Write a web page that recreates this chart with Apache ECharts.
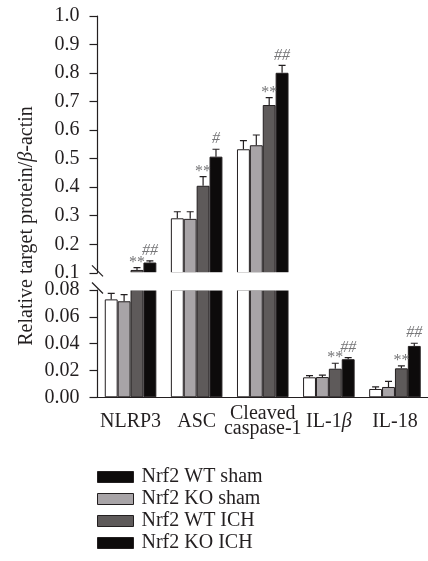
<!DOCTYPE html>
<html>
<head>
<meta charset="utf-8">
<script src="https://cdn.jsdelivr.net/npm/echarts@6/dist/echarts.min.js"></script>
<style>
  html, body { margin: 0; padding: 0; background: #fff; }
  #chart { width: 428px; height: 561px; }
</style>
</head>
<body>
<div id="chart"></div>
<script>
// Inflammasome markers relative to β-actin, four genotype/treatment groups
const categories = ['NLRP3', 'ASC', 'Cleaved\ncaspase-1', 'IL-1β', 'IL-18'];
const seriesNames = ['Nrf2 WT sham', 'Nrf2 KO sham', 'Nrf2 WT ICH', 'Nrf2 KO ICH'];

const wtSham    = [0.073, 0.291, 0.533, 0.0149, 0.0062];
const wtShamErr = [0.0045, 0.023, 0.030, 0.0012, 0.0015];
const koSham    = [0.0716, 0.289, 0.547, 0.0151, 0.0077];
const koShamErr = [0.005, 0.025, 0.036, 0.0015, 0.0042];
const wtIch     = [0.110, 0.405, 0.688, 0.0213, 0.0216];
const wtIchErr  = [0.008, 0.032, 0.026, 0.0041, 0.0018];
const koIch     = [0.136, 0.507, 0.801, 0.0284, 0.0383];
const koIchErr  = [0.006, 0.026, 0.026, 0.0012, 0.0020];

const wtIchSig = ['**', '**', '**', '**', '**'];
const koIchSig = ['##', '#', '##', '##', '##'];

// Tick labels of the two y-axis segments (upper 0.1–1.0, lower 0–0.08)
const upperTicks = ['0.1', '0.2', '0.3', '0.4', '0.5', '0.6', '0.7', '0.8', '0.9', '1.0'];
const lowerTicks = ['0.00', '0.02', '0.04', '0.06', '0.08'];

const groups = [
  { mean: wtSham, err: wtShamErr, sig: null },
  { mean: koSham, err: koShamErr, sig: null },
  { mean: wtIch,  err: wtIchErr,  sig: wtIchSig },
  { mean: koIch,  err: koIchErr,  sig: koIchSig }
];

const FONT = '"Liberation Serif", "Times New Roman", serif';
const INK = '#231f20';
const barColors = ['#ffffff', '#a8a4a7', '#5e5a5a', '#0d0b0b'];
const legendColors = ['#0d0b0b', '#a8a4a7', '#5e5a5a', '#0d0b0b'];

const GRID_LEFT = 97.5;
const GRID_WIDTH = 338.5;
const UPPER_TOP = 16, UPPER_H = 256.8;
const LOWER_TOP = 290, LOWER_H = 107.3;
const CAT_GAP = 0.22;

function errorBars(params, api, gridIdx) {
  const cat = api.value(0), mean = api.value(1), err = api.value(2), g = api.value(3);
  const bandW = api.size([1, 0])[0];
  const barW = bandW * (1 - CAT_GAP) / 4;
  const base = api.coord([cat, mean]);
  const top = api.coord([cat, mean + err]);
  const x = base[0] + (g - 1.5) * barW;
  const line = { stroke: INK, lineWidth: 1.2 };
  const children = [
    { type: 'line', shape: { x1: x, y1: base[1], x2: x, y2: top[1] }, style: line },
    { type: 'line', shape: { x1: x - 3.5, y1: top[1], x2: x + 3.5, y2: top[1] }, style: line }
  ];
  const sig = groups[g].sig;
  if (sig && sig[cat]) {
    const isStar = sig[cat].indexOf('*') >= 0;
    children.push({
      type: 'text',
      style: {
        text: sig[cat],
        x: x,
        y: top[1] + (isStar ? 3 : -2),
        align: 'center',
        verticalAlign: 'bottom',
        fontFamily: FONT,
        fontSize: 16,
        fontStyle: isStar ? 'normal' : 'italic',
        fill: '#767678'
      }
    });
  }
  const cs = params.coordSys;
  // each panel only shows what falls inside its own value range
  const clip = gridIdx === 1
    ? { x: cs.x, y: cs.y, width: cs.width, height: cs.height }
    : { x: cs.x, y: 0, width: cs.width, height: cs.y + cs.height };
  return { type: 'group', children: children, clipPath: { type: 'rect', shape: clip } };
}

function barSeries(gridIdx) {
  return groups.map((grp, g) => ({
    name: seriesNames[g],
    type: 'bar',
    xAxisIndex: gridIdx,
    yAxisIndex: gridIdx,
    data: grp.mean,
    barGap: '0%',
    barCategoryGap: (CAT_GAP * 100) + '%',
    clip: true,
    itemStyle: { color: barColors[g], borderColor: INK, borderWidth: 1 },
    emphasis: { disabled: true }
  }));
}

function errorSeries(gridIdx) {
  const data = [];
  groups.forEach((grp, g) => {
    grp.mean.forEach((m, c) => data.push([c, m, grp.err[c], g]));
  });
  return {
    type: 'custom',
    xAxisIndex: gridIdx,
    yAxisIndex: gridIdx,
    renderItem: (params, api) => errorBars(params, api, gridIdx),
    data: data,
    z: 5,
    silent: true
  };
}

const axisText = { fontFamily: FONT, fontSize: 20, color: INK };

const chart = echarts.init(document.getElementById('chart'), null, { renderer: 'canvas' });

// diagonal break marks across the y axis
const brk = (y) => ({
  type: 'line',
  shape: { x1: GRID_LEFT - 5.5, y1: y - 5.5, x2: GRID_LEFT + 5.5, y2: y + 5.5 },
  style: { stroke: INK, lineWidth: 1.2 },
  z: 101
});

chart.setOption({
  animation: false,
  backgroundColor: '#ffffff',
  grid: [
    { left: GRID_LEFT, width: GRID_WIDTH, top: UPPER_TOP, height: UPPER_H, containLabel: false },
    { left: GRID_LEFT, width: GRID_WIDTH, top: LOWER_TOP, height: LOWER_H, containLabel: false }
  ],
  xAxis: [
    {
      type: 'category', gridIndex: 0, data: categories,
      axisLine: { show: false }, axisTick: { show: false }, axisLabel: { show: false }
    },
    {
      type: 'category', gridIndex: 1, data: categories,
      axisLine: { show: true, lineStyle: { color: INK, width: 1.2 } },
      axisTick: { show: false },
      axisLabel: {
        interval: 0,
        margin: 24,
        verticalAlign: 'middle',
        lineHeight: 15,
        ...axisText,
        formatter: (v) => v.replace('β', '{i|β}'),
        rich: {
          i: { fontFamily: FONT, fontSize: 20, fontStyle: 'italic', color: INK }
        }
      }
    }
  ],
  yAxis: [
    {
      type: 'value', gridIndex: 0, min: 0.1, max: 1.0, interval: 0.1,
      axisLine: { show: true, lineStyle: { color: INK, width: 1.2 } },
      axisTick: { show: true, length: 8, lineStyle: { color: INK, width: 1.2 } },
      splitLine: { show: false },
      axisLabel: {
        margin: 18, ...axisText,
        formatter: (v) => upperTicks[Math.round(v * 10) - 1]
      }
    },
    {
      type: 'value', gridIndex: 1, min: 0, max: 0.08, interval: 0.02,
      axisLine: { show: true, lineStyle: { color: INK, width: 1.2 } },
      axisTick: { show: true, length: 8, lineStyle: { color: INK, width: 1.2 } },
      splitLine: { show: false },
      axisLabel: {
        margin: 18, ...axisText,
        formatter: (v) => lowerTicks[Math.round(v * 50)]
      }
    }
  ],
  legend: {
    orient: 'vertical',
    left: 92,
    top: 461,
    height: 96,
    itemWidth: 36,
    itemHeight: 11,
    itemGap: 0,
    selectedMode: false,
    icon: 'rect',
    textStyle: { fontFamily: FONT, fontSize: 20, lineHeight: 22, color: INK, padding: [0, 0, 0, 3] },
    data: seriesNames.map((n, i) => ({
      name: n,
      itemStyle: { color: legendColors[i], borderColor: INK, borderWidth: 1 }
    }))
  },
  graphic: [
    {
      type: 'text',
      x: 27,
      y: 226,
      rotation: Math.PI / 2,
      style: {
        text: '{a|Relative target protein/}{b|β}{a|-actin}',
        align: 'center',
        verticalAlign: 'middle',
        rich: {
          a: { fontFamily: FONT, fontSize: 20, fill: INK, color: INK },
          b: { fontFamily: FONT, fontSize: 20, fontStyle: 'italic', fill: INK, color: INK }
        }
      }
    },
    {
      // blank band separating the two panels of the broken axis
      type: 'rect',
      shape: {
        x: GRID_LEFT + 1,
        y: UPPER_TOP + UPPER_H - 0.6,
        width: 428 - GRID_LEFT,
        height: LOWER_TOP - (UPPER_TOP + UPPER_H) + 1.2
      },
      style: { fill: '#ffffff' },
      z: 100
    },
    brk(UPPER_TOP + UPPER_H - 2),
    brk(LOWER_TOP - 2)
  ],
  series: [
    ...barSeries(0),
    ...barSeries(1),
    errorSeries(0),
    errorSeries(1)
  ]
});
</script>
</body>
</html>
